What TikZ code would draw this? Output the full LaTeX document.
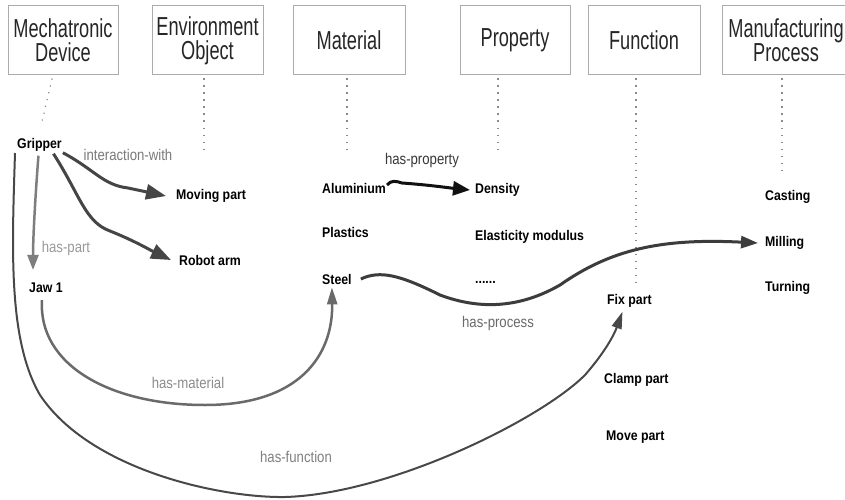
\documentclass[tikz,border=0pt]{standalone}
\usepackage{fontspec}
\setmainfont{Liberation Sans}
\newfontfamily\hdrfont{Liberation Sans}[FakeStretch=0.7]
\newfontfamily\itemfont{Liberation Sans}[FakeStretch=0.88]
\newfontfamily\lblfont{Liberation Sans}[FakeStretch=0.85]
\usetikzlibrary{arrows.meta}
\definecolor{boxline}{HTML}{ABABAB}
\definecolor{dotline}{HTML}{8A8A8A}
\definecolor{interc}{HTML}{454545}
\definecolor{partc}{HTML}{7E7E7E}
\definecolor{matc}{HTML}{6A6A6A}
\definecolor{funcc}{HTML}{484848}
\definecolor{procc}{HTML}{3C3C3C}
\definecolor{propc}{HTML}{111111}
\tikzset{
  hdr/.style={draw=boxline, line width=1pt, minimum height=69pt, align=center,
    inner sep=0pt, font=\hdrfont\fontsize{26}{24}\selectfont, text=black!85},
  item/.style={anchor=west, inner sep=1pt, font=\itemfont\bfseries\fontsize{14}{16}\selectfont},
  lbl/.style={inner sep=0pt, font=\lblfont\fontsize{15.5}{18}\selectfont},
  guide/.style={draw=dotline, line width=1.2pt, dash pattern=on 1.2pt off 5.8pt},
  bigtip/.style={-{Triangle[length=20pt,width=15pt]}},
  midtip/.style={-{Triangle[length=17pt,width=10pt]}},
}
\begin{document}
\begin{tikzpicture}[x=1pt,y=-1pt]
\clip (0,0) rectangle (845,500);
\fill[white] (0,0) rectangle (845,500);

% category headers
\node[hdr, minimum width=110pt] (mech) at (63,40.5) {Mechatronic\\Device};
\node[hdr, minimum width=111pt] (env)  at (207.5,40.5) {Environment\\Object};
\node[hdr, minimum width=112pt] (mat)  at (349,40.5) {Material};
\node[hdr, minimum width=110pt] (prop) at (515,40.5) {Property};
\node[hdr, minimum width=112pt] (func) at (644,40.5) {Function};
\node[hdr, minimum width=128pt] (manu) at (786,40.5) {Manufacturing\\Process};

% dotted guides below the headers
\coordinate (mechend) at (42,122);
\coordinate (envend) at (204,153);
\coordinate (matend) at (347,153);
\coordinate (propend) at (498,153);
\coordinate (funcend) at (636,284);
\coordinate (manuend) at (782,173);
\draw[guide] ([xshift=-11pt,yshift=-3pt]mech.south) -- (mechend);
\draw[guide] ([xshift=-3.5pt,yshift=-3pt]env.south) -- (envend);
\draw[guide] ([xshift=-2pt,yshift=-3pt]mat.south) -- (matend);
\draw[guide] ([xshift=-17pt,yshift=-3pt]prop.south) -- (propend);
\draw[guide] ([xshift=-8pt,yshift=-3pt]func.south) -- (funcend);
\draw[guide] ([xshift=-4pt,yshift=-3pt]manu.south) -- (manuend);

% instances
\node[item] (gripper) at (16,145) {Gripper};
\node[item] (moving)  at (175,196) {Moving part};
\node[item] (robot)   at (178,260) {Robot arm};
\node[item] (jaw)     at (28,288) {Jaw 1};
\node[item] (alu)     at (321,188) {Aluminium};
\node[item] (plast)   at (321,232) {Plastics};
\node[item] (steel)   at (321,279) {Steel};
\node[item] (density) at (474,190) {Density};
\node[item] (elast)   at (474,237) {Elasticity modulus};
\node[item] (more)    at (474,282) {......};
\node[item] (fix)     at (606,301) {Fix part};
\node[item] (clamp)   at (603,380) {Clamp part};
\node[item] (move)    at (605,437) {Move part};
\node[item] (casting) at (764,197) {Casting};
\node[item] (milling) at (764,243) {Milling};
\node[item] (turning) at (764,288) {Turning};

% relations
\draw[interc, line width=3pt, bigtip]
  (gripper.south east) .. controls (95,170) and (103,185) .. (128,188) -- ([xshift=-9pt]moving.west);
\draw[interc, line width=3pt, bigtip]
  ([xshift=14pt,yshift=-1pt]gripper.south) .. controls (80,195) and (85,222) .. (110,231)
  .. controls (135,241) and (150,250) .. ([xshift=-7pt]robot.west);
\draw[partc, line width=2.5pt, -{Triangle[length=15pt,width=11pt]}]
  ([xshift=-1pt,yshift=-3pt]gripper.south) .. controls (35,200) and (33,240) .. ([xshift=5pt,yshift=12pt]jaw.north west);
\draw[matc, line width=2.5pt, midtip]
  ([xshift=-4pt,yshift=-6pt]jaw.south) .. controls (38,365) and (110,405) .. (205,405)
  .. controls (300,405) and (333,355) .. ([xshift=-5pt,yshift=-2pt]steel.south);
\draw[funcc, line width=2pt, midtip]
  ([xshift=-1pt,yshift=-8pt]gripper.west) .. controls (12,250) and (8,340) .. (40,395)
  .. controls (90,470) and (220,498) .. (285,497)
  .. controls (390,494) and (540,420) .. (585,375)
  .. controls (605,352) and (614,335) .. ([xshift=-7pt,yshift=-3pt]fix.south);
\draw[propc, line width=3pt, -{Triangle[length=17pt,width=14pt]}]
  ([yshift=3pt]alu.east) .. controls (391,180) and (396,181) .. (402,183)
  .. controls (430,185) and (450,188) .. ([xshift=-4pt]density.west);
\draw[procc, line width=3pt, -{Triangle[length=17pt,width=12pt]}]
  ([xshift=8pt]steel.east) .. controls (380,270) and (400,275) .. (440,295)
  .. controls (480,310) and (520,308) .. (560,285)
  .. controls (610,250) and (660,238) .. ([xshift=-6pt]milling.west);

% relation labels
\node[lbl, text=black!52] (linter) at (128,155) {interaction-with};
\node[lbl, text=black!40] (lpart)  at (66,248) {has-part};
\node[lbl, text=black!78] (lprop)  at (422,160) {has-property};
\node[lbl, text=black!58] (lproc)  at (498,323) {has-process};
\node[lbl, text=black!45] (lmat)   at (188,383) {has-material};
\node[lbl, text=black!50] (lfunc)  at (296,457) {has-function};
\end{tikzpicture}
\end{document}
